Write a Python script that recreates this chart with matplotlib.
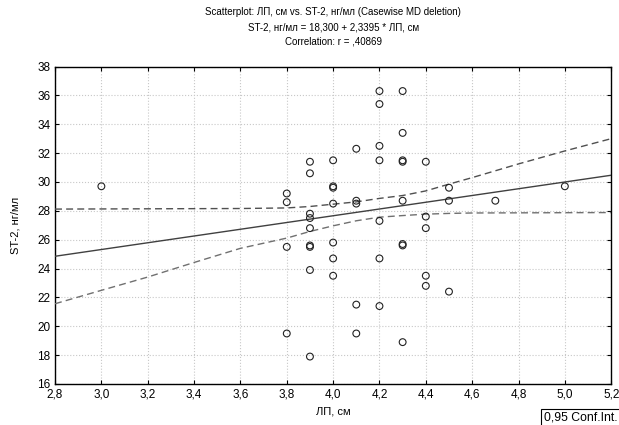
import numpy as np
import matplotlib.pyplot as plt

plt.rcParams['font.family'] = ['Liberation Sans', 'DejaVu Sans']

# Scatter data (ЛП, см  vs  ST-2, нг/мл)
lp = [3.0,
      3.8, 3.8, 3.8, 3.8,
      3.9, 3.9, 3.9, 3.9, 3.9, 3.9, 3.9, 3.9, 3.9,
      4.0, 4.0, 4.0, 4.0, 4.0, 4.0, 4.0,
      4.1, 4.1, 4.1, 4.1, 4.1,
      4.2, 4.2, 4.2, 4.2, 4.2, 4.2, 4.2,
      4.3, 4.3, 4.3, 4.3, 4.3, 4.3, 4.3, 4.3,
      4.4, 4.4, 4.4, 4.4, 4.4,
      4.5, 4.5, 4.5,
      4.7, 5.0]
st2 = [29.7,
       29.2, 28.6, 25.5, 19.5,
       31.4, 30.6, 27.8, 27.5, 26.8, 25.6, 25.5, 23.9, 17.9,
       31.5, 29.7, 29.6, 28.5, 25.8, 24.7, 23.5,
       32.3, 28.7, 28.5, 21.5, 19.5,
       36.3, 35.4, 32.5, 31.5, 27.3, 24.7, 21.4,
       36.3, 33.4, 31.5, 31.4, 28.7, 25.7, 25.6, 18.9,
       31.4, 27.6, 26.8, 23.5, 22.8,
       29.6, 28.7, 22.4,
       28.7, 29.7]

# regression: ST-2 = 18,300 + 2,3395 * ЛП
b0, b1 = 18.300, 2.3395

# 0,95 confidence band
band_x = [2.8, 3.0, 3.2, 3.4, 3.6, 3.8, 3.9, 4.0, 4.1, 4.2, 4.3, 4.4, 4.5, 4.6, 4.8, 5.0, 5.2]
band_hi = [28.12, 28.13, 28.14, 28.15, 28.16, 28.2, 28.3, 28.46, 28.62, 28.86, 29.06, 29.38,
           29.85, 30.3, 31.25, 32.15, 33.0]
band_lo = [21.56, 22.49, 23.41, 24.42, 25.4, 26.11, 26.57, 26.96, 27.31, 27.56, 27.67, 27.77,
           27.82, 27.85, 27.86, 27.87, 27.88]

xticks = np.arange(2.8, 5.21, 0.2)
yticks = np.arange(16, 38.1, 2)

fig = plt.figure(figsize=(6.19, 4.25), dpi=100)
ax = fig.add_axes([0.0889, 0.0965, 0.8985, 0.747])

xl = np.array([2.8, 5.2])
ax.plot(xl, b0 + b1 * xl, color='#404040', lw=1.0, zorder=3)
ax.plot(band_x, band_hi, color='#505050', lw=1.0, ls=(0, (5, 3)), zorder=3)
ax.plot(band_x, band_lo, color='#707070', lw=1.0, ls=(0, (5, 3)), zorder=3)

ax.scatter(lp, st2, s=24, facecolors='none', edgecolors='#222222', linewidths=0.8, zorder=4)

ax.set_xlim(2.8, 5.2)
ax.set_ylim(16, 38)
ax.set_xticks(xticks)
ax.set_yticks(yticks)
ax.set_xticklabels([f'{v:.1f}'.replace('.', ',') for v in xticks])
ax.set_yticklabels([f'{v:.0f}' for v in yticks])
ax.tick_params(direction='in', length=3, labelsize=8.5, top=True, right=True, colors='#000000')
ax.grid(True, color='#c8c8c8', ls=':', lw=0.8)
for s in ax.spines.values():
    s.set_color('#000000')
    s.set_linewidth(1.0)

fig.text(0.0889 + 0.8985 / 2, 1 - 412 / 425, 'ЛП, см', ha='center', va='center', fontsize=8)
fig.text(15 / 619, 1 - 225 / 425, 'ST-2, нг/мл', ha='center', va='center', fontsize=8,
         rotation=90)

cx = 0.0889 + 0.8985 / 2
fig.text(cx, 1 - 12 / 425, 'Scatterplot: ЛП, см vs. ST-2, нг/мл (Casewise MD deletion)',
         ha='center', va='center', fontsize=7.0)
fig.text(cx, 1 - 27 / 425, 'ST-2, нг/мл = 18,300 + 2,3395 * ЛП, см',
         ha='center', va='center', fontsize=7.0)
fig.text(cx, 1 - 42 / 425, 'Correlation: r = ,40869',
         ha='center', va='center', fontsize=7.0)

fig.text(544 / 619, 1 - 418 / 425, '0,95 Conf.Int.', ha='left', va='center', fontsize=8.8,
         bbox=dict(boxstyle='square,pad=0.25', fc='white', ec='black', lw=0.8))

fig.savefig('out.png', dpi=100)
